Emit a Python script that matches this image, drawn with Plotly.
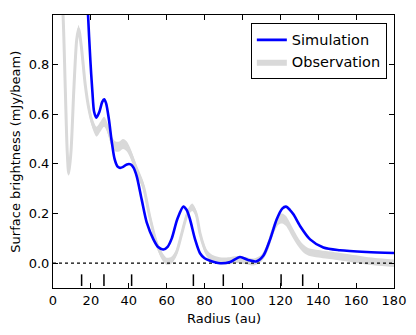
import plotly.graph_objects as go

# Simulation profile (radius in au, surface brightness in mJy/beam)
sim_r = [17.5, 18.5, 19.7, 20.8, 21.7, 22.9, 24.5, 26.0, 27.0, 28.0, 29.5, 31.0, 32.5, 34.0,
         35.4, 37.0, 39.0, 41.0, 42.5, 44.2, 46.8, 49.5, 53.0, 55.5, 58.2, 60.5, 62.7, 65.6,
         68.8, 70.5, 72.3, 75.0, 77.6, 80.0, 82.9, 88.2, 93.5, 98.7, 103.0, 107.2, 111.0,
         114.6, 118.1, 121.0, 123.0, 125.0, 126.9, 130.4, 135.7, 142.7, 151.5, 165.6, 180.0]
sim_val = [1.20, 1.00, 0.82, 0.69, 0.61, 0.586, 0.61, 0.65, 0.66, 0.645, 0.58, 0.49, 0.42, 0.39,
           0.384, 0.388, 0.398, 0.398, 0.385, 0.35, 0.257, 0.163, 0.096, 0.065, 0.055, 0.066, 0.10, 0.177,
           0.228, 0.215, 0.177, 0.096, 0.04, 0.02, 0.01, 0.0, 0.005, 0.025, 0.013, 0.007, 0.03,
           0.096, 0.177, 0.22, 0.228, 0.215, 0.197, 0.15, 0.096, 0.063, 0.052, 0.045, 0.041]

# Observation profile: mean and half-width of uncertainty band
obs_r = [4.0, 5.3, 6.5, 7.5, 8.3, 9.5, 11.0, 12.5, 13.5, 15.0, 17.0, 19.0, 21.0, 23.0, 25.0,
         27.0, 29.0, 31.0, 33.0, 35.0, 37.0, 39.0, 41.0, 43.0, 45.0, 47.7, 51.0, 54.7, 57.5,
         60.0, 62.5, 65.0, 68.0, 71.0, 73.5, 75.5, 77.6, 79.5, 81.2, 84.0, 88.0, 93.0, 97.0,
         102.0, 106.0, 110.0, 113.0, 116.0, 119.0, 121.0, 123.0, 126.0, 129.0, 132.0, 135.0,
         140.0, 145.0, 150.0, 157.0, 163.0, 170.0, 180.0]
obs_mean = [1.15, 1.00, 0.70, 0.45, 0.36, 0.45, 0.70, 0.90, 0.945, 0.87, 0.72, 0.62, 0.56, 0.53, 0.55,
            0.57, 0.54, 0.49, 0.47, 0.47, 0.48, 0.47, 0.44, 0.40, 0.36, 0.31, 0.19, 0.08, 0.03,
            0.008, 0.012, 0.04, 0.12, 0.20, 0.225, 0.20, 0.12, 0.07, 0.04, 0.02, 0.01, 0.01, 0.015,
            0.01, 0.005, 0.02, 0.06, 0.13, 0.175, 0.18, 0.17, 0.13, 0.09, 0.06, 0.045,
            0.038, 0.033, 0.028, 0.02, 0.013, 0.006, 0.0]
obs_err = [0.01, 0.01, 0.01, 0.01, 0.008, 0.01, 0.012, 0.015, 0.015, 0.018, 0.018, 0.02, 0.02, 0.02, 0.02,
           0.02, 0.02, 0.02, 0.02, 0.02, 0.02, 0.02, 0.02, 0.02, 0.02, 0.018, 0.018, 0.016, 0.016,
           0.014, 0.014, 0.014, 0.014, 0.015, 0.015, 0.015, 0.015, 0.014, 0.014, 0.014, 0.014, 0.014, 0.014,
           0.014, 0.014, 0.014, 0.016, 0.018, 0.02, 0.02, 0.02, 0.02, 0.018, 0.016, 0.015,
           0.015, 0.015, 0.015, 0.015, 0.015, 0.015, 0.015]

# Ring / gap locations marked along the bottom
ring_r = [15.1, 26.9, 41.5, 74.1, 89.9, 120.4, 131.8]
ring_y_top = -0.045
ring_y_bot = -0.092

x_ticks = [0, 20, 40, 60, 80, 100, 120, 140, 160, 180]
y_ticks = [0.0, 0.2, 0.4, 0.6, 0.8]
x_range = [0, 180]
y_range = [-0.1, 1.0]

obs_lo = [m - e for m, e in zip(obs_mean, obs_err)]
obs_hi = [m + e for m, e in zip(obs_mean, obs_err)]

GRAY = "#d9d9d9"
fig = go.Figure()

fig.add_trace(go.Scatter(x=obs_r, y=obs_lo, mode="lines", line=dict(width=0, shape="spline", smoothing=0.8),
                         showlegend=False, hoverinfo="skip"))
fig.add_trace(go.Scatter(x=obs_r, y=obs_hi, mode="lines", line=dict(width=0, shape="spline", smoothing=0.8),
                         fill="tonexty", fillcolor=GRAY, name="Observation", legendrank=2,
                         legendgroup="obs"))
fig.add_trace(go.Scatter(x=obs_r, y=obs_mean, mode="lines", line=dict(width=3, color=GRAY, shape="spline", smoothing=0.8),
                         showlegend=False, hoverinfo="skip"))

# zero level dotted line
fig.add_trace(go.Scatter(x=x_range, y=[0, 0], mode="lines",
                         line=dict(color="black", width=1.3, dash="dot"), showlegend=False, hoverinfo="skip"))

# ring markers
rx, ry = [], []
for r in ring_r:
    rx += [r, r, None]
    ry += [ring_y_top, ring_y_bot, None]
fig.add_trace(go.Scatter(x=rx, y=ry, mode="lines", line=dict(color="black", width=1.5),
                         showlegend=False, hoverinfo="skip"))

fig.add_trace(go.Scatter(x=sim_r, y=sim_val, mode="lines", name="Simulation", legendrank=1,
                         legendgroup="sim",
                         line=dict(color="#0000ff", width=2.6, shape="spline", smoothing=0.8)))

axis_common = dict(showline=True, linecolor="black", linewidth=1, mirror="ticks", ticks="inside",
                   ticklen=5, tickcolor="black", showgrid=False, zeroline=False, automargin=False,
                   tickfont=dict(family="DejaVu Sans", size=13, color="black"))

# page body has an 8px default margin, so the figure is sized/margined to compensate
fig.update_layout(
    width=408, height=327,
    margin=dict(l=45, r=22, t=7, b=47),
    paper_bgcolor="white", plot_bgcolor="white",
    font=dict(family="DejaVu Sans", size=13, color="black"),
    xaxis=dict(range=x_range, tickvals=x_ticks, ticktext=[str(v) for v in x_ticks], **axis_common),
    yaxis=dict(range=y_range, tickvals=y_ticks, ticktext=[f"{v:.1f}" for v in y_ticks], **axis_common),
    legend=dict(x=0.979, y=0.971, xanchor="right", yanchor="top", bgcolor="white",
                bordercolor="black", borderwidth=1, font=dict(size=14.5), traceorder="normal",
                tracegroupgap=2),
    annotations=[
        dict(text="Radius (au)", xref="paper", yref="paper", x=0.5, y=-0.11, xanchor="center",
             yanchor="middle", showarrow=False, font=dict(size=13)),
        dict(text="Surface brightness (mJy/beam)", xref="paper", yref="paper", x=-0.111, y=0.5,
             xanchor="center", yanchor="middle", textangle=-90, showarrow=False, font=dict(size=13)),
    ],
)

fig.write_html("out.html")
